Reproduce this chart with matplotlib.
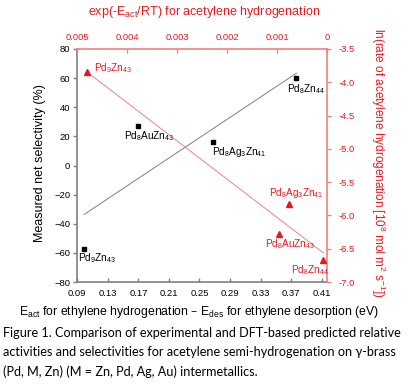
import matplotlib
matplotlib.use("Agg")
import matplotlib.pyplot as plt
import numpy as np

plt.rcParams["font.family"] = ["Liberation Sans", "DejaVu Sans"]
plt.rcParams["mathtext.default"] = "regular"

RED = "#e8191e"
PINK = "#f08080"
GREY = "#808080"

# black squares: selectivity vs Eact - Edes (bottom / left axes)
sel_names = [r"Pd$_9$Zn$_{43}$", r"Pd$_8$AuZn$_{43}$", r"Pd$_8$Ag$_3$Zn$_{41}$", r"Pd$_8$Zn$_{44}$"]
sel_x = [0.099, 0.169, 0.268, 0.377]
sel_y = [-57, 27, 16, 60]
sel_off = [(-6, -10), (-14, -10), (-1, -10), (-9, -11)]

# red triangles: ln(rate) vs exp(-Eact/RT) (top / right axes)
rate_names = [r"Pd$_9$Zn$_{43}$", r"Pd$_8$Ag$_3$Zn$_{41}$", r"Pd$_8$AuZn$_{43}$", r"Pd$_8$Zn$_{44}$"]
rate_x = [0.00481, 0.000756, 0.000956, 0.000074]
rate_y = [-3.85, -5.83, -6.28, -6.67]
rate_off = [(7, 4), (-20, 11), (-14, -10), (-32, -10)]

fig = plt.figure(figsize=(4.08, 3.85), dpi=100)
pos = [77.3 / 408, 1 - 282 / 385, (327 - 77.3) / 408, (282 - 49) / 385]

ax = fig.add_axes(pos)
ax.set_xlim(0.09, 0.417)
ax.set_ylim(-80, 80)
ax.set_xticks(np.arange(0.09, 0.42, 0.04))
ax.set_xticklabels([f"{v:.2f}" for v in np.arange(0.09, 0.42, 0.04)])
ax.set_yticks(range(-80, 81, 20))
for s in ["top", "right"]:
    ax.spines[s].set_visible(False)
for s in ["left", "bottom"]:
    ax.spines[s].set_color(GREY)
    ax.spines[s].set_linewidth(1.2)
ax.tick_params(axis="x", direction="in", length=3, width=1, color=GREY, labelsize=6.8, pad=5)
ax.tick_params(axis="y", direction="out", length=3, width=1, color=GREY, labelsize=6.8, pad=2)

ax.plot(sel_x, sel_y, "s", color="black", ms=3.3, zorder=3)
k, b = np.polyfit(sel_x, sel_y, 1)
xx = np.array([min(sel_x), max(sel_x)])
ax.plot(xx, k * xx + b, color=GREY, lw=0.7)
for n, x, y, o in zip(sel_names, sel_x, sel_y, sel_off):
    ax.annotate(n, (x, y), xytext=o, textcoords="offset pixels",
                ha="left", va="center", fontsize=7.2, color="black")

ax2 = fig.add_axes(pos, facecolor="none")
ax2.set_xlim(0.005, 0.0)
ax2.set_ylim(-7.0, -3.5)
ax2.xaxis.tick_top()
ax2.yaxis.tick_right()
ax2.set_xticks([0.005, 0.004, 0.003, 0.002, 0.001, 0])
ax2.set_xticklabels(["0.005", "0.004", "0.003", "0.002", "0.001", "0"])
ax2.set_yticks(np.arange(-7.0, -3.49, 0.5))
ax2.set_yticklabels([f"{v:.1f}" for v in np.arange(-7.0, -3.49, 0.5)])
for s in ["left", "bottom"]:
    ax2.spines[s].set_visible(False)
for s in ["top", "right"]:
    ax2.spines[s].set_color(PINK)
    ax2.spines[s].set_linewidth(1.2)
ax2.tick_params(axis="x", direction="in", length=3, width=1, color=PINK, labelsize=6.8,
                labelcolor=RED, pad=5)
ax2.tick_params(axis="y", direction="out", length=3, width=1, color=PINK, labelsize=6.8,
                labelcolor=RED, pad=5)

ax2.plot(rate_x, rate_y, "^", color=RED, ms=4, zorder=3)
k2, b2 = np.polyfit(rate_x, rate_y, 1)
vv = np.array([min(rate_x), max(rate_x)])
ax2.plot(vv, k2 * vv + b2, color=PINK, lw=0.7)
for n, x, y, o in zip(rate_names, rate_x, rate_y, rate_off):
    ax2.annotate(n, (x, y), xytext=o, textcoords="offset pixels",
                 ha="left", va="center", fontsize=7.2, color=RED)

# axis titles
fig.text(204 / 408, 1 - 12 / 385, r"exp(-E$_{act}$/RT) for acetylene hydrogenation",
         ha="center", va="center", fontsize=9, color=RED)
fig.text(40 / 408, 1 - 163 / 385, "Measured net selectivity (%)",
         ha="center", va="center", rotation=90, fontsize=9)
fig.text(378 / 408, 1 - 163 / 385,
         r"ln(rate of acetylene hydrogenation [10$^8$ mol m$^2$ s$^{-1}$])",
         ha="center", va="center", rotation=270, fontsize=8.5, color=RED)
fig.text(199 / 408, 1 - 312 / 385,
         r"E$_{act}$ for ethylene hydrogenation – E$_{des}$ for ethylene desorption (eV)",
         ha="center", va="center", fontsize=8.8)

caption = [
    "Figure 1. Comparison of experimental and DFT-based predicted relative",
    "activities and selectivities for acetylene semi-hydrogenation on γ-brass",
    "(Pd, M, Zn) (M = Zn, Pd, Ag, Au) intermetallics.",
]
for i, line in enumerate(caption):
    fig.text(3 / 408, 1 - (333 + 19.5 * i) / 385, line, ha="left", va="center",
             fontsize=9.05, family=["Lato", "DejaVu Sans"])

fig.savefig("out.png", dpi=100)
